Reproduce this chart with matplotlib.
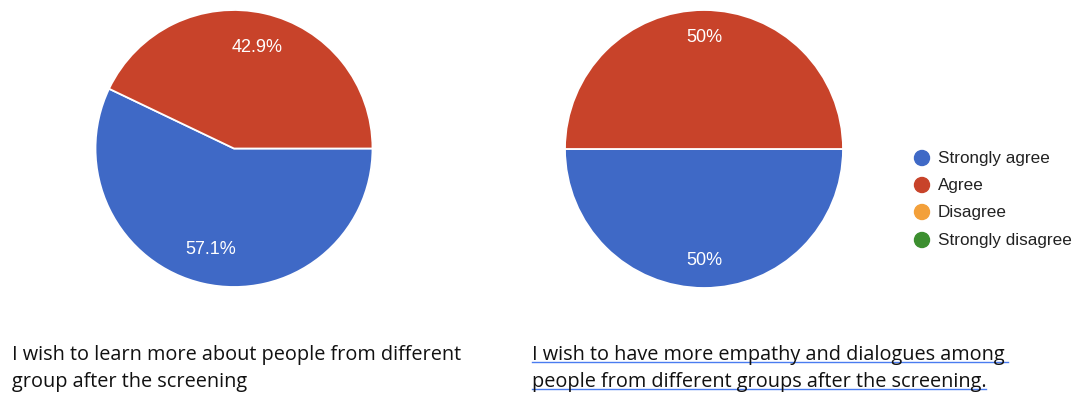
import matplotlib
matplotlib.use("Agg")
import matplotlib.pyplot as plt
import numpy as np

categories = ["Strongly agree", "Agree", "Disagree", "Strongly disagree"]
colors = ["#3f69c6", "#c8432a", "#f3a03a", "#3c8f2f"]
left_values = [57.1, 42.9]
left_labels = ["57.1%", "42.9%"]
right_values = [50, 50]
right_labels = ["50%", "50%"]
left_caption = ["I wish to learn more about people from different",
                "group after the screening"]
right_caption = ["I wish to have more empathy and dialogues among",
                 "people from different groups after the screening."]

W, H = 1077, 394
fig = plt.figure(figsize=(W / 100, H / 100), dpi=100)
ax = fig.add_axes([0, 0, 1, 1])
ax.set_xlim(0, W)
ax.set_ylim(0, H)
ax.set_aspect("equal")
ax.axis("off")

def draw_pie(values, labels, cx, cy, r, pdist):
    wedges, _ = ax.pie(values, colors=colors[:len(values)], startangle=0,
                       counterclock=False, center=(cx, H - cy), radius=r,
                       wedgeprops=dict(edgecolor="white", linewidth=1.3))
    for w, lab in zip(wedges, labels):
        mid = np.deg2rad((w.theta1 + w.theta2) / 2)
        x = cx + pdist * r * np.cos(mid)
        y = H - cy + pdist * r * np.sin(mid)
        ax.text(x, y, lab, color="white", fontsize=13, ha="center", va="center",
                family="Liberation Sans")

draw_pie(left_values, left_labels, 234, 148.5, 138.5, 0.75)
draw_pie(right_values, right_labels, 704, 149, 139, 0.80)
ax.set_xlim(0, W)
ax.set_ylim(0, H)

# legend
ly = [158, 185, 212, 240]
for c, name, y in zip(colors, categories, ly):
    ax.add_patch(plt.Circle((922, H - y), 7.5, color=c))
    ax.text(938, H - y, name, fontsize=12.3, color="#222222", ha="left", va="center",
            family="Liberation Sans")

# captions
cap_font = "Open Sans"
for i, line in enumerate(left_caption):
    ax.text(12, H - (360 + 27 * i), line, fontsize=14.3, color="#111111",
            ha="left", va="baseline", family=cap_font)
ends = [1008, 986]
for i, line in enumerate(right_caption):
    ax.text(532, H - (360 + 27 * i), line, fontsize=14.3, color="#111111",
            ha="left", va="baseline", family=cap_font)
    ax.plot([532, ends[i]], [H - (361.5 + 27 * i)] * 2, color="#4a7cf0", lw=1.0)

fig.savefig("out.png", dpi=100)
